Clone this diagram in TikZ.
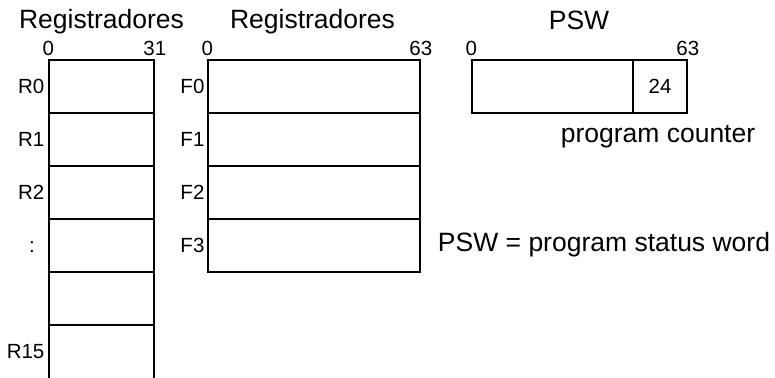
\documentclass[tikz,border=0pt]{standalone}
\usepackage{fontspec}
\setmainfont{Liberation Sans}
\usetikzlibrary{positioning}
\begin{document}
\begin{tikzpicture}[x=1pt,y=1pt,line width=1.6pt,
    reg/.style={draw,minimum width=105pt,minimum height=53pt,inner sep=0pt},
    freg/.style={draw,minimum width=212pt,minimum height=53pt,inner sep=0pt},
    big/.style={font=\fontsize{26.5}{31}\selectfont},
    small/.style={font=\fontsize{20.5}{24}\selectfont},
    bit/.style={small,inner sep=1pt},
    lbl/.style={small,inner sep=1pt}]
    \useasboundingbox (0,0) rectangle (775,377);
    % integer registers
    \node[reg] (R0) at (101.5,290.5) {};
    \node[reg] (R1) at (101.5,237.5) {};
    \node[reg] (R2) at (101.5,184.5) {};
    \node[reg] (Rdots) at (101.5,131.5) {};
    \node[reg] (Rgap) at (101.5,78.5) {};
    \node[reg,minimum height=54pt] (R15) at (101.5,25) {};
    \node[lbl,left=2pt of R0] {R0};
    \node[lbl,left=2pt of R1] {R1};
    \node[lbl,left=2pt of R2] {R2};
    \node[small] at (32,130) {:};
    \node[lbl,left=2pt of R15] {R15};
    \node[bit,above=2pt of R0.north west] {0};
    \node[bit,above=2pt of R0.north east] {31};
    \node[big,anchor=base] at (101.5,348) {Registradores};
    % floating point registers
    \node[freg] (F0) at (314,290.5) {};
    \node[freg] (F1) at (314,237.5) {};
    \node[freg] (F2) at (314,184.5) {};
    \node[freg] (F3) at (314,131.5) {};
    \node[lbl,left=1pt of F0] {F0};
    \node[lbl,left=1pt of F1] {F1};
    \node[lbl,left=1pt of F2] {F2};
    \node[lbl,left=1pt of F3] {F3};
    \node[bit,above=2pt of F0.north west] {0};
    \node[bit,above=2pt of F0.north east] {63};
    \node[big,anchor=base] at (312.5,348) {Registradores};
    % program status word
    \node[draw,minimum width=161pt,minimum height=53pt,inner sep=0pt]
        (psw) at (552.5,290.5) {};
    \node[draw,small,minimum width=54pt,minimum height=53pt,inner sep=0pt]
        (pc) at (660,290.5) {24};
    \node[bit,above=2pt of psw.north west] {0};
    \node[bit,above=2pt of pc.north east] {63};
    \node[big,anchor=base] at (579,347) {PSW};
    \node[big,anchor=base] at (658,234) {program counter};
    \node[big,anchor=base] at (604,125) {PSW = program status word};
\end{tikzpicture}
\end{document}
